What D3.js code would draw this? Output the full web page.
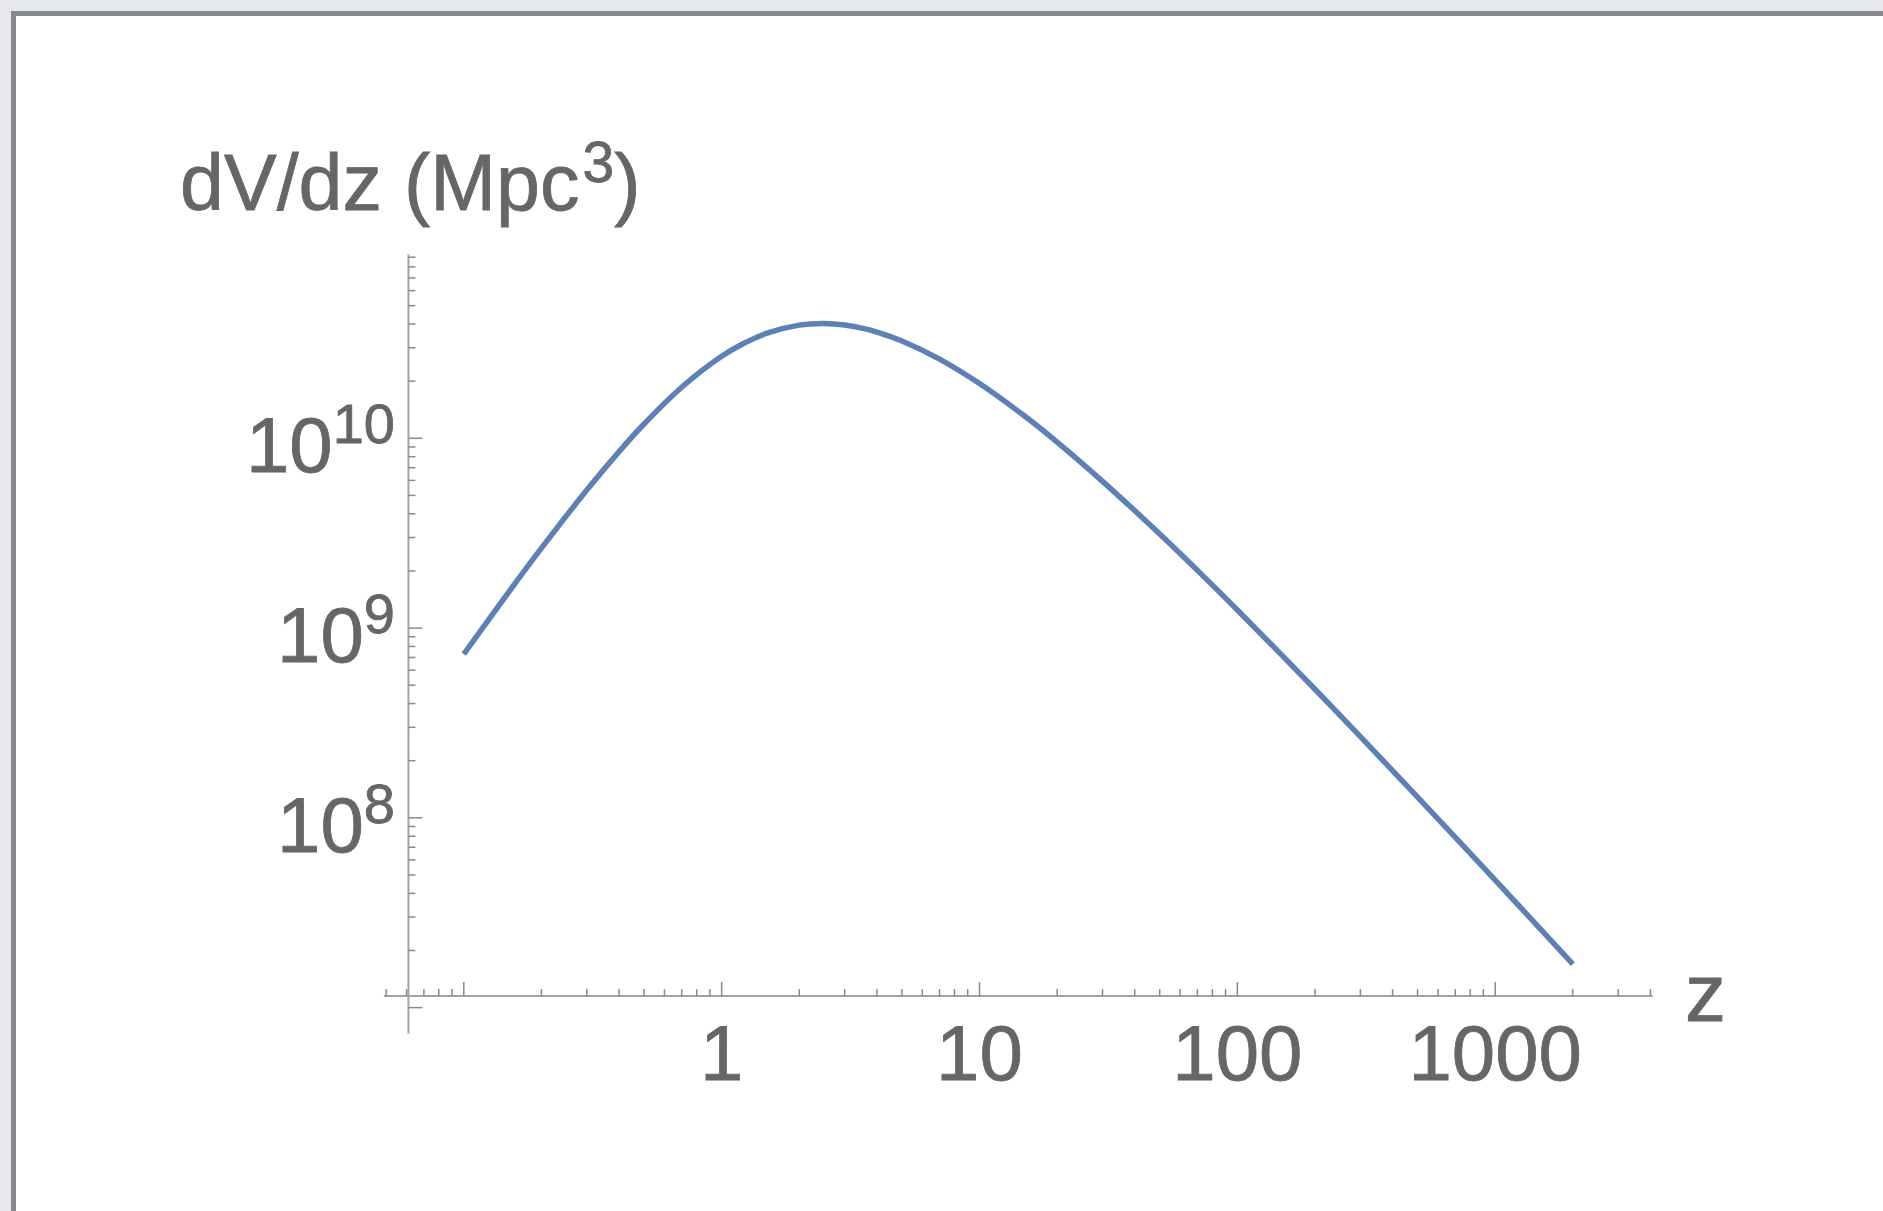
<!DOCTYPE html>
<html>
<head>
<meta charset="utf-8">
<script src="https://cdn.jsdelivr.net/npm/d3@7"></script>
<style>
  html, body { margin: 0; padding: 0; background: #e8e9ec; overflow: hidden; }
  svg { display: block; }
  text { font-family: "Liberation Sans", Arial, Helvetica, sans-serif; fill: #666666; stroke: #666666; stroke-width: 0.8px; }
</style>
</head>
<body>
<svg id="chart" width="1883" height="1211"></svg>
<script>
// ---- data ----
const zValues = [0.1, 0.15, 0.2, 0.3, 0.4, 0.5, 0.7, 1, 1.2, 1.5, 2, 2.5, 3, 3.5, 4, 5, 7, 10, 15, 20, 30, 50, 70, 100, 200, 300, 500, 1000, 2000];
const dVdzValues = [7.29e8, 1.561e9, 2.636e9, 5.34e9, 8.51e9, 1.189e10, 1.858e10, 2.705e10, 3.131e10, 3.579e10, 3.947e10, 4.024e10, 3.952e10, 3.805e10, 3.628e10, 3.259e10, 2.615e10, 1.944e10, 1.306e10, 9.55e9, 5.932e9, 3.131e9, 2.014e9, 1.246e9, 4.762e8, 2.679e8, 1.286e8, 4.693e7, 1.696e7];
const xTickValues = [1, 10, 100, 1000];
const xTickLabels = ["1", "10", "100", "1000"];
const xMajorTicks = [0.1, 1, 10, 100, 1000];
const yTickValues = [1e8, 1e9, 1e10];
const yTickBase = ["10", "10", "10"];
const yTickExp = ["8", "9", "10"];
const yMajorTicks = [1e7, 1e8, 1e9, 1e10];
const yAxisTitle = "dV/dz (Mpc";
const yAxisTitleSup = "3";
const xAxisTitle = "z";

// ---- layout ----
const svg = d3.select("#chart");
const W = 1883, H = 1211;

// frame
svg.append("rect").attr("x", 0).attr("y", 0).attr("width", W).attr("height", H).attr("fill", "#e8e9ec");
svg.append("rect").attr("x", 11).attr("y", 11).attr("width", W).attr("height", H).attr("fill", "#ffffff");
svg.append("rect").attr("x", 11).attr("y", 11).attr("width", W).attr("height", 5).attr("fill", "#868b89");
svg.append("rect").attr("x", 11).attr("y", 11).attr("width", 5).attr("height", H).attr("fill", "#868b89");

const x = d3.scaleLog().domain([0.1, 1000]).range([463.8, 1495.2]);
const y = d3.scaleLog().domain([1e7, 1e10]).range([1007.6, 438.3]);

const xCross = 0.061;      // where the y axis sits
const yCross = 1.15e7;     // where the x axis sits
const xAxisExtent = [0.049, 4080];
const yAxisExtent = [7.3e6, 9.3e10];

const axisColor = "#a3a3a3";
const tickColor = "#8a8a8a";

const g = svg.append("g");

// x axis line
g.append("line")
  .attr("x1", x(xAxisExtent[0])).attr("x2", x(xAxisExtent[1]))
  .attr("y1", y(yCross)).attr("y2", y(yCross))
  .attr("stroke", axisColor).attr("stroke-width", 2);

// y axis line
g.append("line")
  .attr("x1", x(xCross)).attr("x2", x(xCross))
  .attr("y1", y(yAxisExtent[0])).attr("y2", y(yAxisExtent[1]))
  .attr("stroke", axisColor).attr("stroke-width", 2);

// x ticks (major + minor)
const xMinor = [];
for (let e = -2; e <= 3; e++) {
  for (let m = 2; m <= 9; m++) {
    const v = m * Math.pow(10, e);
    if (v >= xAxisExtent[0] && v <= xAxisExtent[1]) xMinor.push(v);
  }
}
g.selectAll(".xminor").data(xMinor).enter().append("line")
  .attr("x1", d => x(d)).attr("x2", d => x(d))
  .attr("y1", y(yCross)).attr("y2", y(yCross) - 7)
  .attr("stroke", tickColor).attr("stroke-width", 1.5);
g.selectAll(".xmajor").data(xMajorTicks).enter().append("line")
  .attr("x1", d => x(d)).attr("x2", d => x(d))
  .attr("y1", y(yCross)).attr("y2", y(yCross) - 14)
  .attr("stroke", tickColor).attr("stroke-width", 1.5);

// y ticks (major + minor)
const yMinor = [];
for (let e = 7; e <= 10; e++) {
  for (let m = 2; m <= 9; m++) {
    const v = m * Math.pow(10, e);
    if (v >= yAxisExtent[0] && v <= yAxisExtent[1]) yMinor.push(v);
  }
}
g.selectAll(".yminor").data(yMinor).enter().append("line")
  .attr("x1", x(xCross)).attr("x2", x(xCross) + 7)
  .attr("y1", d => y(d)).attr("y2", d => y(d))
  .attr("stroke", tickColor).attr("stroke-width", 1.5);
g.selectAll(".ymajor").data(yMajorTicks).enter().append("line")
  .attr("x1", x(xCross)).attr("x2", x(xCross) + 14)
  .attr("y1", d => y(d)).attr("y2", d => y(d))
  .attr("stroke", tickColor).attr("stroke-width", 1.5);

// x tick labels
g.selectAll(".xlab").data(xTickValues).enter().append("text")
  .attr("x", d => x(d)).attr("y", 1080)
  .attr("text-anchor", "middle")
  .style("font-size", "78px")
  .text((d, i) => xTickLabels[i]);

// y tick labels with superscript
yTickValues.forEach((v, i) => {
  const t = g.append("text")
    .attr("x", 395).attr("y", y(v) + 34)
    .attr("text-anchor", "end")
    .style("font-size", "78px");
  t.append("tspan").text(yTickBase[i]);
  t.append("tspan").attr("dy", -29).style("font-size", "56px").text(yTickExp[i]);
});

// axis titles
const title = g.append("text").attr("x", 180).attr("y", 210).style("font-size", "79px");
title.append("tspan").text(yAxisTitle);
title.append("tspan").attr("dx", 3).attr("dy", -28).style("font-size", "57px").text(yAxisTitleSup);
title.append("tspan").attr("dy", 28).text(")");

g.append("text").attr("x", 1685).attr("y", 1021).style("font-size", "82px").text(xAxisTitle);

// the curve
const pts = zValues.map((z, i) => [z, dVdzValues[i]]);
const line = d3.line()
  .x(d => x(d[0]))
  .y(d => y(d[1]))
  .curve(d3.curveCatmullRom.alpha(0.5));
g.append("path")
  .attr("d", line(pts))
  .attr("fill", "none")
  .attr("stroke", "#5e81b5")
  .attr("stroke-width", 5.5);
</script>
</body>
</html>
